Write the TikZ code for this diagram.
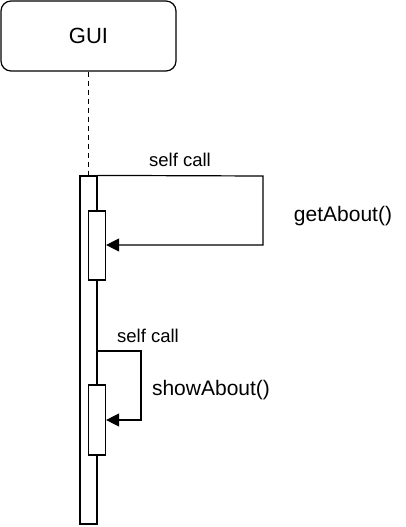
\documentclass[tikz,border=0pt]{standalone}
\usepackage{fontspec}
\setmainfont{Liberation Sans}
\usetikzlibrary{arrows.meta}
\begin{document}
\begin{tikzpicture}[x=1pt,y=-1pt,
  line width=1.2pt,
  lbl/.style={inner sep=0pt,font=\fontsize{18.5}{20}\selectfont},
  msg/.style={inner sep=0pt,font=\fontsize{21}{23}\selectfont},
  actbar/.style={draw,fill=white,minimum width=17pt,inner sep=0pt},
  callarrow/.style={-{Triangle[length=13pt,width=13pt]}}]
\useasboundingbox (0,0) rectangle (405,527);
% participant
\node[draw,rounded corners=10pt,minimum width=175pt,minimum height=70pt,inner sep=0pt,
      font=\fontsize{22}{24}\selectfont] (gui) at (88.5,36) {GUI};
% outer activation bar
\node[actbar,minimum height=348pt] (bar) at (88.5,350) {};
\draw[dashed,line width=1pt,dash pattern=on 5pt off 4pt] (gui.south) -- (bar.north);
% inner activation bars
\node[actbar,minimum height=69pt] (inA) at (97,245.5) {};
\node[actbar,minimum height=70pt] (inB) at (97,420) {};
% first self call
\coordinate (a0) at (bar.north east);
\coordinate (a1) at (263,176);
\coordinate (a2) at (263,245);
\draw[callarrow] (a0) -- (a1) -- (a2) -- (inA.east |- a2);
\node[lbl] (l1) at (180,160) {self call};
\node[msg] (m1) at (343,216) {getAbout()};
% second self call
\coordinate (b0) at (bar.east |- 0,351);
\coordinate (b1) at (141,351);
\coordinate (b2) at (141,420);
\draw[callarrow] (b0) -- (b1) -- (b2) -- (inB.east |- b2);
\node[lbl] (l2) at (148,335.5) {self call};
\node[msg] (m2) at (211,390) {showAbout()};
\end{tikzpicture}
\end{document}
